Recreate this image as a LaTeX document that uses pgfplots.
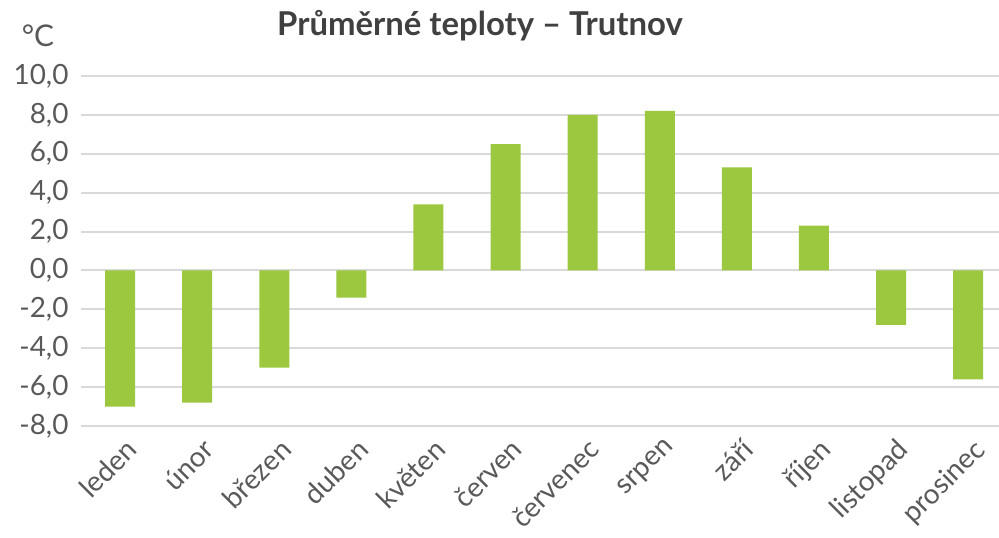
\documentclass[border=0pt]{standalone}
\usepackage{pgfplots}
\pgfplotsset{compat=1.18}
\usepackage{fontspec}
\setmainfont{Lato}
\definecolor{bargreen}{HTML}{9BC83F}
\definecolor{txt}{HTML}{595959}
\definecolor{ttl}{HTML}{404040}
\definecolor{grd}{HTML}{D9D9D9}
\begin{document}
\begin{tikzpicture}
\path[use as bounding box] (0,0) rectangle (499.5bp,269bp);
\begin{axis}[
  at={(40.75bp,56bp)}, anchor=south west,
  scale only axis, width=458.75bp, height=175bp,
  ybar, bar width=15bp,
  xmin=-0.5, xmax=11.4,
  ymin=-8, ymax=10, ytick={-8,-6,...,10},
  xtick={0,...,11},
  xticklabels={leden,únor,březen,duben,květen,červen,červenec,srpen,září,říjen,listopad,prosinec},
  xticklabel style={rotate=45, anchor=north east, font=\fontsize{14}{16}\selectfont, text=txt, xshift=1bp, yshift=-2bp},
  yticklabel style={font=\fontsize{14}{16}\selectfont, text=txt, xshift=-3bp},
  /pgf/number format/assume math mode=true,
  y tick label style={/pgf/number format/.cd, fixed, fixed zerofill, precision=1, use comma},
  ymajorgrids, grid style={grd, line width=1bp},
  axis line style={draw=none},
  major tick length=0pt,
  clip=false,
]
\addplot[fill=bargreen, draw=none] coordinates {
(0,-7.0) (1,-6.8) (2,-5.0) (3,-1.4) (4,3.4) (5,6.5) (6,8.0) (7,8.2) (8,5.3) (9,2.3) (10,-2.8) (11,-5.6)};
\end{axis}
\node[font=\bfseries\fontsize{16.5}{19}\selectfont, text=ttl] at (240bp,256bp) {Průměrné teploty – Trutnov};
\node[font=\fontsize{15}{17}\selectfont, text=txt] at (19bp,251bp) {°C};
\end{tikzpicture}
\end{document}
